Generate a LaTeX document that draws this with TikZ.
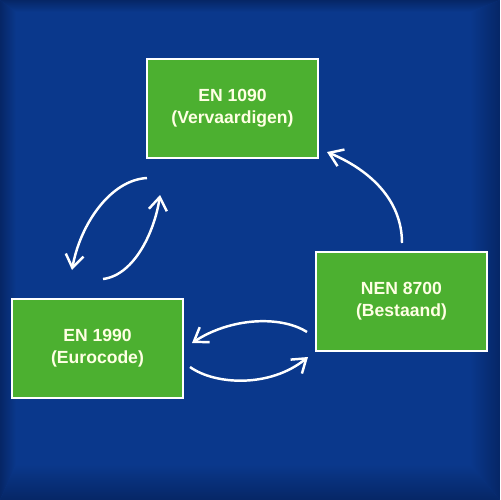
\documentclass[tikz,border=0pt]{standalone}
\usepackage{fontspec}
\setmainfont{Liberation Sans}
\usetikzlibrary{arrows.meta,positioning,calc}
\definecolor{normblue}{RGB}{10,56,140}
\definecolor{normdark}{RGB}{6,38,102}
\definecolor{normgreen}{RGB}{76,176,48}
\definecolor{normtext}{RGB}{255,255,228}

\begin{document}
\begin{tikzpicture}[
  x=0.02cm, y=-0.02cm,
  every node/.style={font=\bfseries\fontsize{10}{12.5}\selectfont},
  normbox/.style={rectangle, draw=white, line width=1.3pt, fill=normgreen,
      text=normtext, align=center, inner sep=0pt,
      minimum width=3.42cm, minimum height=1.98cm},
  cyclearrow/.style={draw=white, line width=1.4pt,
      -{Straight Barb[length=2.6mm, width=3.6mm]}},
]
\useasboundingbox (0,0) rectangle (500,500);

% Background with darker edges
\fill[normblue] (0,0) rectangle (500,500);
\shade[top color=normdark, bottom color=normblue] (0,0) -- (500,0) -- (470,12) -- (16,12) -- cycle;
\shade[left color=normdark, right color=normblue] (0,0) -- (16,12) -- (16,464) -- (0,500) -- cycle;
\shade[left color=normblue, right color=normdark] (500,0) -- (470,12) -- (470,464) -- (500,500) -- cycle;
\shade[top color=normblue, bottom color=normdark] (0,500) -- (16,464) -- (470,464) -- (500,500) -- cycle;

% The three standards
\node[normbox] (en1090) at (232.5,108.5) {EN 1090\\(Vervaardigen)};
\node[normbox] (en1990) at (97.5,348.5) {EN 1990\\(Eurocode)};
\node[normbox] (nen8700) at (401.5,301.5) {NEN 8700\\(Bestaand)};

% Free ends of the arrows
\coordinate (a1s) at (147,178); \coordinate (a1e) at (72,270);
\coordinate (a2s) at (103,279); \coordinate (a2e) at (160,195);
\coordinate (a3s) at (307,332); \coordinate (a3e) at (192,343);
\coordinate (a4s) at (190,367); \coordinate (a4e) at (308,357);
\coordinate (a5s) at (402,243); \coordinate (a5e) at (327,152);

% Arrows between the standards
\draw[cyclearrow] (a1s) .. controls +(-37,2) and +(8,-45) .. (a1e);
\draw[cyclearrow] (a2s) .. controls +(32,-4) and +(-5,35) .. (a2e);
\draw[cyclearrow] (a3s) .. controls +(-27,-17) and +(38,-25) .. (a3e);
\draw[cyclearrow] (a4s) .. controls +(25,18) and +(-38,31) .. (a4e);
\draw[cyclearrow] (a5s) .. controls +(0,-43) and +(43,18) .. (a5e);
\end{tikzpicture}
\end{document}
